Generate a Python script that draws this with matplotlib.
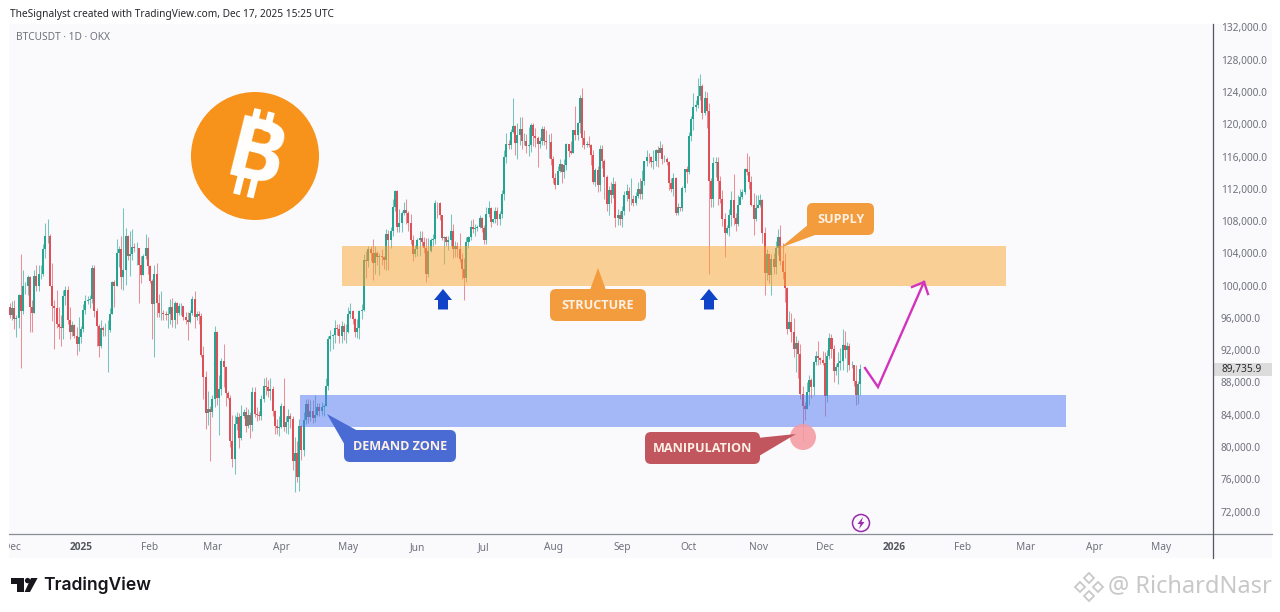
import numpy as np
import pandas as pd
import matplotlib
matplotlib.use('Agg')
import matplotlib.pyplot as plt
import matplotlib.dates as mdates
from matplotlib.patches import Rectangle, Circle, FancyBboxPatch, Polygon

# daily closes / highs / lows in thousands, BTCUSDT from 2024-11-30 to 2025-12-17
first_open = 97.4
closes = [96.4,
    97.2, 95.9, 96.0, 98.8, 96.9, 99.9, 99.9, 101.1, 97.4, 96.6, 101.2, 100.0, 101.4, 101.4, 104.5, 106.1, 106.1, 100.0, 97.5, 97.2, 95.2, 94.9, 94.7, 98.7, 99.4, 95.8, 94.2, 95.1, 93.7, 92.8, 93.6,
    94.6, 97.0, 98.1, 98.2, 98.3, 102.2, 96.9, 95.0, 92.5, 94.7, 94.5, 94.5, 94.5, 96.5, 100.5, 99.9, 104.1, 104.5, 101.1, 102.0, 106.1, 103.7, 103.9, 104.8, 104.7, 104.7, 102.6, 101.3, 103.7, 104.7, 102.4,
    100.6, 97.7, 101.4, 97.8, 96.6, 96.6, 96.5, 96.4, 96.5, 97.4, 95.7, 97.8, 96.6, 97.5, 97.5, 96.1, 95.8, 95.5, 96.6, 98.3, 96.1, 96.5, 96.2, 91.4, 88.7, 84.2, 84.7, 84.3,
    86.0, 94.2, 86.1, 87.2, 90.6, 89.9, 86.7, 86.1, 80.7, 78.5, 82.9, 83.7, 81.1, 83.9, 84.3, 82.6, 84.0, 82.7, 86.8, 84.1, 84.0, 83.8, 86.0, 87.5, 87.4, 86.9, 87.2, 84.4, 82.6, 82.4, 82.5,
    85.1, 82.5, 83.1, 83.8, 83.5, 78.2, 79.2, 76.3, 82.6, 79.6, 83.4, 85.3, 83.7, 84.5, 83.6, 84.0, 84.9, 84.4, 85.0, 85.1, 87.5, 93.4, 93.7, 93.9, 94.7, 94.6, 93.8, 95.0, 94.2, 94.2,
    96.5, 96.9, 95.9, 94.3, 94.7, 96.8, 97.0, 103.2, 103.0, 104.6, 104.1, 102.8, 104.1, 103.5, 103.7, 103.5, 103.2, 106.4, 105.6, 106.8, 109.7, 111.7, 107.3, 107.8, 109.0, 109.4, 109.0, 107.8, 105.6, 103.9, 104.6,
    105.7, 105.9, 105.4, 104.7, 101.5, 104.3, 105.6, 105.8, 110.3, 110.2, 108.7, 105.9, 106.0, 105.4, 105.6, 106.8, 104.6, 104.9, 104.6, 103.3, 102.1, 100.9, 105.4, 106.0, 107.3, 107.0, 107.1, 107.3, 108.4, 107.2,
    105.7, 108.9, 109.6, 107.9, 108.2, 109.2, 108.3, 108.9, 111.3, 116.0, 117.5, 117.4, 119.1, 119.8, 117.7, 118.7, 119.4, 117.9, 117.9, 117.3, 117.4, 119.9, 118.6, 118.3, 117.6, 117.9, 119.4, 117.9, 117.8, 117.8, 115.7,
    113.3, 112.5, 114.2, 115.1, 114.1, 115.0, 117.5, 116.7, 116.5, 119.3, 118.7, 120.2, 123.3, 118.3, 117.4, 117.5, 117.4, 116.2, 112.9, 114.3, 112.5, 116.9, 115.4, 113.5, 110.1, 111.8, 111.2, 112.6, 108.4, 108.8, 108.2,
    109.2, 111.2, 111.7, 110.7, 110.7, 110.2, 111.1, 112.0, 111.4, 113.0, 115.4, 116.0, 115.9, 115.3, 115.4, 116.8, 116.5, 117.1, 115.7, 115.7, 115.3, 112.7, 112.0, 113.3, 109.0, 109.7, 109.6, 112.1, 114.4, 114.1,
    118.6, 120.6, 122.2, 122.4, 123.5, 124.8, 121.4, 123.3, 121.7, 113.0, 110.8, 115.2, 115.3, 113.0, 110.8, 108.2, 106.5, 107.2, 108.7, 110.6, 108.4, 107.6, 110.0, 111.0, 111.6, 114.5, 114.1, 112.9, 110.0, 108.3, 109.6,
    110.0, 110.6, 106.5, 101.6, 103.9, 101.3, 103.3, 102.3, 104.7, 106.0, 103.0, 101.7, 99.7, 94.6, 95.5, 94.2, 92.2, 92.9, 91.5, 86.6, 85.1, 84.7, 86.8, 88.3, 87.4, 90.5, 91.3, 91.0, 90.8, 90.4,
    86.3, 91.3, 93.5, 92.1, 89.4, 89.9, 90.4, 90.6, 92.7, 92.0, 92.5, 90.2, 90.2, 88.2, 86.4, 87.8, 89.7]
highs = [97.9,
    98.1, 98.2, 96.3, 99.0, 103.9, 102.0, 100.5, 101.3, 101.2, 98.2, 101.9, 102.5, 102.6, 102.6, 105.1, 107.8, 108.3, 106.4, 102.8, 98.2, 99.5, 97.4, 96.4, 99.4, 99.9, 99.9, 97.4, 95.6, 95.2, 94.9, 96.1,
    95.0, 97.7, 98.9, 98.7, 98.8, 102.6, 102.6, 97.2, 95.3, 95.8, 95.0, 95.4, 95.8, 97.2, 100.6, 100.7, 105.8, 104.9, 106.2, 109.6, 107.1, 106.3, 106.8, 107.0, 105.3, 105.4, 103.2, 103.7, 103.9, 106.4, 106.0,
    102.6, 100.8, 102.5, 102.8, 99.0, 99.3, 97.0, 96.9, 97.3, 98.3, 98.5, 98.1, 98.0, 97.9, 97.9, 97.0, 96.7, 96.7, 97.0, 98.7, 99.3, 96.9, 96.8, 96.6, 92.5, 89.4, 87.0, 85.1,
    86.5, 95.0, 94.4, 88.9, 91.0, 92.8, 90.0, 86.9, 86.5, 84.0, 84.0, 84.3, 84.2, 85.2, 84.7, 85.0, 84.7, 84.3, 87.4, 87.4, 84.9, 84.5, 86.4, 88.6, 88.7, 88.3, 88.5, 87.5, 84.6, 83.5, 83.9,
    85.5, 88.5, 83.9, 84.7, 84.2, 83.8, 81.2, 80.8, 83.5, 82.7, 84.3, 85.9, 86.0, 85.8, 85.8, 86.5, 85.5, 85.4, 85.6, 85.3, 88.5, 93.8, 94.5, 94.0, 95.7, 95.3, 95.3, 95.6, 95.4, 95.2,
    97.4, 97.9, 97.0, 96.0, 95.9, 97.0, 97.7, 103.9, 104.3, 104.9, 104.9, 105.8, 104.9, 104.3, 104.0, 104.5, 103.7, 107.0, 106.9, 107.3, 110.7, 111.9, 111.9, 109.5, 109.3, 110.4, 110.7, 109.3, 108.9, 106.3, 105.0,
    105.9, 106.8, 106.8, 106.0, 105.9, 105.9, 105.9, 106.4, 110.6, 110.4, 110.4, 108.8, 106.2, 106.2, 106.1, 108.9, 107.7, 105.5, 105.4, 106.5, 104.0, 103.4, 106.0, 106.2, 108.1, 108.3, 107.7, 107.5, 108.7, 108.5,
    107.5, 109.7, 110.5, 109.7, 108.3, 109.7, 109.7, 109.2, 111.9, 116.8, 118.9, 118.0, 119.4, 123.2, 119.9, 120.1, 120.9, 120.9, 118.9, 118.8, 119.7, 120.2, 120.2, 119.5, 118.5, 118.4, 119.8, 119.8, 119.3, 118.8, 118.9,
    116.1, 114.0, 114.8, 115.7, 115.1, 115.7, 117.7, 117.6, 117.9, 119.3, 122.3, 120.3, 123.6, 124.5, 119.3, 117.9, 118.6, 117.6, 116.8, 114.6, 114.8, 117.4, 117.4, 115.7, 113.7, 112.4, 112.9, 113.5, 113.0, 109.5, 109.3,
    109.9, 111.7, 112.6, 112.2, 113.4, 111.2, 111.6, 112.8, 113.3, 114.3, 115.5, 116.8, 116.4, 116.1, 116.8, 117.0, 117.3, 117.9, 117.5, 116.2, 116.0, 115.4, 113.4, 114.0, 113.5, 110.3, 109.8, 112.4, 114.5, 114.8,
    119.0, 121.0, 123.9, 123.0, 125.7, 126.2, 125.0, 124.1, 124.0, 122.6, 113.4, 115.9, 116.0, 115.9, 113.6, 111.8, 109.0, 107.5, 109.5, 111.7, 113.9, 109.0, 111.2, 112.0, 112.0, 114.6, 116.4, 116.1, 113.6, 111.5, 111.2,
    111.2, 111.3, 110.8, 107.3, 104.5, 104.0, 103.9, 104.1, 105.5, 107.0, 107.5, 105.3, 104.0, 99.8, 96.8, 96.6, 96.0, 93.8, 93.2, 92.8, 87.5, 85.6, 88.0, 88.9, 88.6, 90.6, 91.9, 93.1, 91.2, 91.9,
    91.8, 92.0, 94.1, 94.0, 92.7, 90.3, 91.8, 92.3, 94.6, 94.4, 93.0, 92.9, 90.7, 89.2, 90.1, 88.2, 90.3]
lows = [96.0,
    95.7, 94.6, 93.6, 94.7, 89.8, 96.5, 99.0, 98.8, 94.3, 94.3, 96.6, 99.3, 99.3, 100.8, 101.2, 103.4, 105.3, 99.9, 95.6, 92.2, 94.7, 93.4, 92.5, 93.4, 97.6, 95.2, 93.4, 93.8, 93.5, 91.4, 91.9,
    92.9, 94.3, 96.5, 97.7, 97.2, 97.9, 96.1, 92.5, 91.2, 92.3, 93.8, 93.7, 89.3, 94.2, 96.5, 97.3, 99.9, 102.3, 99.6, 99.5, 100.1, 103.2, 101.2, 103.2, 104.2, 102.5, 97.8, 100.3, 101.3, 103.3, 101.5,
    100.3, 93.4, 91.2, 96.1, 96.1, 95.7, 95.7, 95.7, 94.7, 95.3, 94.9, 94.8, 95.2, 96.3, 96.3, 95.8, 95.2, 93.3, 95.4, 96.4, 94.8, 95.7, 95.2, 91.2, 86.0, 82.2, 82.7, 78.2,
    83.7, 85.0, 85.2, 81.5, 86.4, 87.4, 85.1, 85.9, 80.0, 77.5, 76.6, 82.1, 79.9, 80.9, 83.6, 81.9, 82.4, 81.1, 82.0, 83.7, 83.2, 83.4, 83.3, 85.6, 86.4, 86.2, 85.8, 83.8, 81.6, 81.6, 81.3,
    82.4, 82.0, 81.7, 81.6, 82.4, 77.1, 74.4, 75.7, 74.6, 78.4, 78.9, 82.8, 83.0, 83.2, 83.0, 83.1, 83.8, 83.9, 84.0, 83.9, 85.1, 87.1, 91.9, 92.2, 92.9, 93.9, 92.9, 92.9, 93.3, 92.9,
    94.1, 96.0, 95.3, 93.6, 93.5, 93.4, 95.9, 96.9, 101.0, 102.3, 103.0, 100.7, 101.4, 102.6, 101.3, 102.6, 102.1, 102.0, 102.0, 104.7, 106.2, 109.3, 106.7, 106.7, 106.6, 108.7, 107.6, 106.8, 105.2, 103.1, 103.6,
    103.7, 103.7, 104.9, 104.0, 100.4, 101.1, 104.2, 104.9, 105.1, 108.4, 108.1, 105.6, 102.7, 104.9, 104.4, 104.9, 103.4, 103.6, 103.5, 102.9, 100.8, 98.2, 100.4, 104.7, 105.6, 106.5, 106.1, 106.8, 107.2, 106.7,
    105.2, 105.1, 108.5, 107.3, 107.8, 107.8, 107.5, 107.5, 108.4, 110.6, 115.2, 116.9, 116.9, 118.9, 116.2, 115.7, 117.4, 117.0, 117.4, 116.5, 116.1, 116.6, 117.3, 117.2, 114.7, 117.1, 117.4, 117.4, 116.9, 115.8, 115.0,
    112.7, 112.0, 112.7, 114.1, 112.7, 113.4, 114.3, 115.9, 116.3, 116.5, 118.1, 118.0, 118.9, 117.2, 116.9, 117.2, 117.2, 114.9, 112.6, 112.4, 111.6, 111.7, 114.6, 110.8, 109.3, 108.7, 110.3, 110.9, 107.3, 107.5, 107.5,
    107.3, 108.8, 110.5, 109.3, 110.0, 109.9, 110.0, 110.9, 110.8, 110.7, 112.5, 114.8, 115.2, 114.7, 114.4, 114.8, 114.7, 116.7, 115.1, 115.3, 115.0, 111.9, 111.6, 111.1, 108.7, 108.7, 109.2, 109.2, 111.6, 112.7,
    113.9, 117.9, 119.3, 121.7, 122.0, 123.0, 120.7, 121.2, 119.5, 101.5, 109.7, 109.8, 113.5, 110.0, 110.2, 107.4, 103.6, 106.4, 106.2, 107.4, 107.5, 106.8, 107.4, 110.2, 110.8, 111.4, 113.7, 112.0, 109.9, 106.3, 108.0,
    109.6, 109.7, 105.3, 98.9, 100.7, 100.3, 98.9, 101.4, 101.5, 103.8, 102.5, 100.8, 98.0, 94.0, 94.6, 93.0, 91.2, 89.3, 88.5, 85.9, 80.7, 83.4, 84.7, 85.2, 86.1, 86.4, 90.2, 90.1, 90.3, 90.1,
    83.8, 85.6, 90.9, 91.0, 88.0, 88.9, 87.8, 89.6, 89.6, 91.0, 89.3, 89.6, 89.8, 87.6, 85.2, 85.3, 86.5]

price_ticks = list(range(72000, 132001, 4000))
month_ticks = ['2024-12-01', '2025-01-01', '2025-02-01', '2025-03-01', '2025-04-01', '2025-05-01', '2025-06-01',
               '2025-07-01', '2025-08-01', '2025-09-01', '2025-10-01', '2025-11-01', '2025-12-01', '2026-01-01',
               '2026-02-01', '2026-03-01', '2026-04-01', '2026-05-01']
month_labels = ['Dec', '2025', 'Feb', 'Mar', 'Apr', 'May', 'Jun', 'Jul', 'Aug', 'Sep', 'Oct', 'Nov', 'Dec', '2026',
                'Feb', 'Mar', 'Apr', 'May']
last_price = 89735.9

W, H = 1280, 612
UP, DOWN = '#26a492', '#dd5058'
GREY = '#6f717c'
FONT = 'Noto Sans'
plt.rcParams['font.family'] = [FONT, 'DejaVu Sans']


def dn(s):
    return mdates.date2num(pd.Timestamp(s))


fig = plt.figure(figsize=(W / 100, H / 100), dpi=100, facecolor='white')

# overlay in pixel coords, used for frame, callouts and logos
bg = fig.add_axes([0, 0, 1, 1], zorder=0)
bg.set_xlim(0, W)
bg.set_ylim(H, 0)
bg.axis('off')
bg.add_patch(Rectangle((9, 24), 1263, 534, fc='#fafafd', ec='none'))

ax = fig.add_axes([9 / W, (H - 534) / H, 1204 / W, 510 / H], zorder=1)
ax.patch.set_alpha(0)
for s in ax.spines.values():
    s.set_visible(False)

dates = pd.date_range('2024-11-30', periods=len(closes), freq='D')
x = mdates.date2num(dates)
c = np.array(closes) * 1000
h = np.array(highs) * 1000
l = np.array(lows) * 1000
o = np.r_[first_open * 1000, c[:-1]]
colors = [UP if cc >= oo else DOWN for oo, cc in zip(o, c)]

ax.vlines(x, l, h, colors=colors, lw=0.75, alpha=0.62)
ax.bar(x, np.abs(c - o), bottom=np.minimum(o, c), width=0.9, color=colors, lw=0)

# zones sit above the candles, that is what tints them
ax.add_patch(Rectangle((dn('2025-04-28'), 100000), dn('2026-02-20') - dn('2025-04-28') + 0.5, 4900,
                       fc='#fba531', ec='none', alpha=0.5, zorder=5))
ax.add_patch(Rectangle((dn('2025-04-09') + 0.5, 82500), dn('2026-03-19') - dn('2025-04-09'), 3900,
                       fc='#5078f5', ec='none', alpha=0.5, zorder=5))

px_day = 2.227
d0 = dn('2025-01-01')
ax.set_xlim(d0 - (81 - 9) / px_day, d0 + (1213 - 81) / px_day)
ax.set_ylim(72000 - (534 - 511.5) / 8.067 * 1000, 132000 + (27.5 - 24) / 8.067 * 1000)

ax.yaxis.tick_right()
ax.set_yticks(price_ticks)
ax.set_yticklabels([f'{v:,.1f}' for v in price_ticks], fontsize=7.3, color=GREY)
ax.set_xticks([dn(m) for m in month_ticks])
ax.set_xticklabels(month_labels, fontsize=7.3, color=GREY)
ax.tick_params(axis='y', length=0, pad=5.5)
ax.tick_params(axis='x', length=0, pad=5.5)
for t in ax.get_xticklabels():
    if t.get_text().startswith('20'):
        t.set_family('Open Sans')
        t.set_fontweight('bold')
        t.set_color('#54565f')

ov = fig.add_axes([0, 0, 1, 1], zorder=2)
ov.set_xlim(0, W)
ov.set_ylim(H, 0)
ov.axis('off')
ov.patch.set_alpha(0)

ov.add_patch(Rectangle((0, 534), 9, 24, fc='white', ec='none'))
ov.plot([9, 1272], [534, 534], color='#8a8c94', lw=0.9)
ov.plot([1213, 1213], [24, 558], color='#55575f', lw=0.9)
ov.add_patch(Rectangle((1214, 363), 58, 13, fc='#dcdcdc', ec='none'))
ov.text(1221, 369.5, f'{last_price:,.1f}', fontsize=7.3, color='#2a2a30', va='center', ha='left')

ov.text(10, 14, 'TheSignalyst created with TradingView.com, Dec 17, 2025 15:25 UTC', fontsize=7.3,
        color='#26262c', va='center', ha='left')
ov.text(16, 38, 'BTCUSDT · 1D · OKX', fontsize=7.3, color=GREY, va='center', ha='left')


def callout(x0, y0, x1, y1, color, label, tip, base):
    ov.add_patch(FancyBboxPatch((x0, y0), x1 - x0, y1 - y0, boxstyle='round,pad=0,rounding_size=6',
                                fc=color, ec='none', zorder=6))
    ov.add_patch(Polygon([base[0], tip, base[1]], closed=True, fc=color, ec='none', zorder=6))
    ov.text((x0 + x1) / 2, (y0 + y1) / 2 + 0.5, label, color='#fdf0e4', fontsize=9.1, fontweight='bold',
            family='Open Sans', ha='center', va='center', zorder=7)


callout(807, 203, 874, 235, '#f39c3d', 'SUPPLY', (780, 248), [(809, 224), (815, 235)])
callout(550, 289, 646, 321, '#f39c3d', 'STRUCTURE', (598, 268), [(590, 290), (606, 290)])
callout(344, 430, 456, 462, '#4a6bd3', 'DEMAND ZONE', (327, 414), [(346, 447), (358, 431)])
callout(645, 432, 760, 464, '#c1565f', 'MANIPULATION', (796, 434), [(757, 438), (759, 456)])
ov.add_patch(Circle((803, 437), 13, fc='#f59aa1', ec='none', alpha=0.88, zorder=5))

# blue arrows
for ax_px in (443, 709):
    ov.add_patch(Polygon([(ax_px, 289), (ax_px + 9, 300), (ax_px + 5, 300), (ax_px + 5, 309.5),
                          (ax_px - 5, 309.5), (ax_px - 5, 300), (ax_px - 9, 300)],
                         closed=True, fc='#1044c8', ec='none'))

# projected path
ov.plot([865, 878, 924], [368, 387, 282], color='#d233bd', lw=1.7, solid_joinstyle='miter')
ov.plot([912, 924, 928], [287, 282, 294], color='#d233bd', lw=1.7, solid_joinstyle='miter')

# bitcoin badge
ov.add_patch(Circle((255, 156), 64, fc='#f7931a', ec='none'))
ov.text(255, 159, 'B', color='white', fontsize=62, fontweight='bold', family='Open Sans', rotation=-14,
        rotation_mode='anchor', ha='center', va='center')
theta = np.radians(14)
for dx in (-6, 8):
    for y_a, y_b in ((-44, -24), (24, 44)):
        cs = []
        for px, py in ((dx - 3.5, y_a), (dx + 3.5, y_a), (dx + 3.5, y_b), (dx - 3.5, y_b)):
            cs.append((253 + px * np.cos(theta) - py * np.sin(theta), 153 + px * np.sin(theta) + py * np.cos(theta)))
        ov.add_patch(Polygon(cs, closed=True, fc='white', ec='none'))

# lightning badge
ov.add_patch(Circle((861, 523), 8.5, fc='none', ec='#9c27b0', lw=1.1))
ov.add_patch(Polygon([(863, 517), (857.5, 524), (860.5, 524), (859, 529), (864.5, 522), (861.5, 522)],
                     closed=True, fc='#9c27b0', ec='none'))

# TradingView logo
logo = '#16161c'
ov.add_patch(Rectangle((10.7, 578), 13.3, 5.5, fc=logo, ec='none'))
ov.add_patch(Rectangle((16.7, 578), 7.3, 14, fc=logo, ec='none'))
ov.add_patch(Circle((27.6, 580.6), 2.7, fc=logo, ec='none'))
ov.add_patch(Polygon([(31, 578), (37.6, 578), (30, 592), (24.6, 592)], closed=True, fc=logo, ec='none'))
ov.text(43, 585.5, 'TradingView', fontsize=12.6, fontweight='semibold', family='Inter', color=logo,
        va='center', ha='left')

# watermark
wm = '#c8c8c8'
for cx, cy in ((1089, 578), (1080, 587), (1098, 587), (1089, 596)):
    ov.add_patch(Polygon([(cx, cy - 5), (cx + 5, cy), (cx, cy + 5), (cx - 5, cy)], closed=True, fc='none', ec=wm, lw=1.3))
ov.text(1108, 586, '@ RichardNasr', fontsize=17, color=wm, va='center', ha='left')

fig.savefig('out.png', dpi=100)
